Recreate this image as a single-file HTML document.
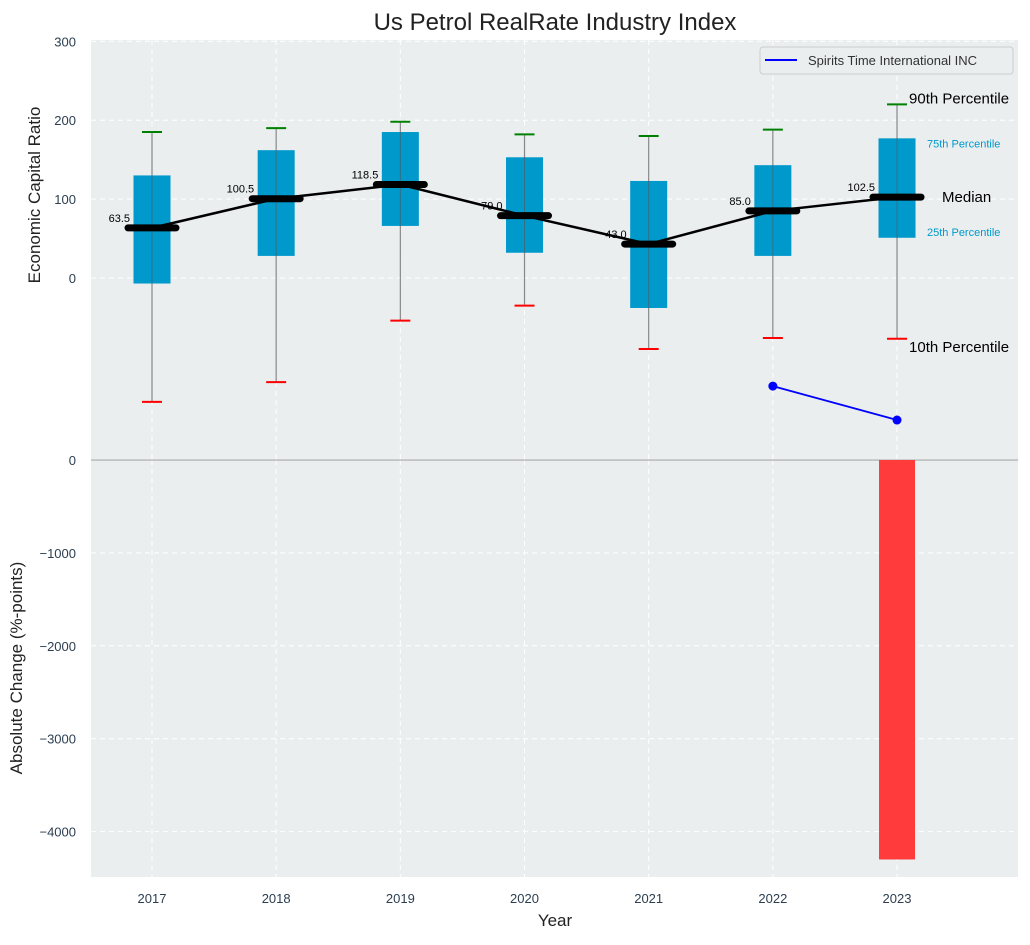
<!DOCTYPE html>
<html><head><meta charset="utf-8"><style>
body{margin:0;background:#fff;font-family:"Liberation Sans",sans-serif}
svg text{font-family:"Liberation Sans",sans-serif}
</style></head><body>
<svg id="c" width="1030" height="940" xmlns="http://www.w3.org/2000/svg"></svg>
<script>
const years=[2017,2018,2019,2020,2021,2022,2023];
const p10=[-157,-132,-54,-35,-90,-76,-77];
const q1=[-7,28,66,32,-38,28,51];
const med=[63.5,100.5,118.5,79.0,43.0,85.0,102.5];
const q3=[130,162,185,153,123,143,177];
const p90=[185,190,198,182,180,188,220];
const compYears=[2022,2023];
const compVals=[-137,-180];
const changeYears=[2023];
const changeVals=[-4300];
const topTicks=[0,100,200,300];
const botTicks=[0,-1000,-2000,-3000,-4000];

const S=document.getElementById('c');const NS='http://www.w3.org/2000/svg';
function el(t,a,txt){const e=document.createElementNS(NS,t);for(const k in a)e.setAttribute(k,a[k]);if(txt!==undefined)e.textContent=txt;S.appendChild(e);return e;}
const L=91,R=1018,T1=40,B1=459,T2=460,B2=877;
const x=v=>152+(v-2017)*124.17;
const y1=v=>278-v*0.789;
const yB=v=>460+(-v)*0.0929;

let e;
e=el('rect',{x:L,y:T1,width:R-L,height:B1-T1,fill:'#eaeeef'});

e=el('rect',{x:L,y:T2,width:R-L,height:B2-T2,fill:'#eaeeef'});

for(const t of topTicks){const yy=y1(t);
 el('line',{x1:L,x2:R,y1:yy,y2:yy,stroke:'#fff','stroke-dasharray':'5,4','stroke-width':1});
 e=el('text',{x:76,y:yy+5,'text-anchor':'end','font-size':13,fill:'#2c3e50'},t);
 }
for(const t of botTicks){const yy=yB(t);
 el('line',{x1:L,x2:R,y1:yy,y2:yy,stroke:'#fff','stroke-dasharray':'5,4','stroke-width':1});
 e=el('text',{x:76,y:yy+5,'text-anchor':'end','font-size':13,fill:'#2c3e50'},t===0?'0':'\u2212'+(-t));
 }
for(const yr of years){const xx=x(yr);
 el('line',{x1:xx,x2:xx,y1:T1,y2:B1,stroke:'#fff','stroke-dasharray':'5,4'});
 el('line',{x1:xx,x2:xx,y1:T2,y2:B2,stroke:'#fff','stroke-dasharray':'5,4'});
 e=el('text',{x:xx,y:903,'text-anchor':'middle','font-size':13,fill:'#2c3e50'},yr);
 }
el('line',{x1:L,x2:R,y1:460,y2:460,stroke:'#999','stroke-width':1});
changeYears.forEach((yr,i)=>{e=el('rect',{x:x(yr)-18,y:yB(0),width:36,height:yB(changeVals[i])-yB(0),fill:'#ff3b3b'});
 });
years.forEach((yr,i)=>{const xx=x(yr);
 e=el('line',{x1:xx,x2:xx,y1:y1(p90[i]),y2:y1(p10[i]),stroke:'#888','stroke-width':1.2});
 
 e=el('rect',{x:xx-18.5,y:y1(q3[i]),width:37,height:y1(q1[i])-y1(q3[i]),fill:'#0099cc'});
 
 el('line',{x1:xx,x2:xx,y1:y1(q3[i]),y2:y1(q1[i]),stroke:'#555','stroke-width':1,opacity:.6});
 e=el('line',{x1:xx-10,x2:xx+10,y1:y1(p90[i]),y2:y1(p90[i]),stroke:'green','stroke-width':2});
 
 e=el('line',{x1:xx-10,x2:xx+10,y1:y1(p10[i]),y2:y1(p10[i]),stroke:'red','stroke-width':2});
 
});
e=el('polyline',{points:years.map((yr,i)=>x(yr)+','+y1(med[i])).join(' '),fill:'none',stroke:'#000','stroke-width':2.5});

years.forEach((yr,i)=>{const xx=x(yr);
 e=el('line',{x1:xx-24,x2:xx+24,y1:y1(med[i]),y2:y1(med[i]),stroke:'#000','stroke-width':7,'stroke-linecap':'round'});
 
 e=el('text',{x:xx-22,y:y1(med[i])-6,'text-anchor':'end','font-size':11,fill:'#000'},med[i].toFixed(1));
 });
e=el('polyline',{points:compYears.map((yr,i)=>x(yr)+','+y1(compVals[i])).join(' '),fill:'none',stroke:'blue','stroke-width':1.8});

compYears.forEach((yr,i)=>{e=el('circle',{cx:x(yr),cy:y1(compVals[i]),r:4.5,fill:'blue'});
 });
const lx=x(2023);
[['90th Percentile',lx+12,y1(p90[6])-1,15,'#000'],['75th Percentile',lx+30,y1(q3[6])+9,11,'#0099cc'],['Median',lx+45,y1(med[6])+5,15,'#000'],['25th Percentile',lx+30,y1(q1[6])-2,11,'#0099cc'],['10th Percentile',lx+12,y1(p10[6])+13,15,'#000']].forEach(a=>{
 e=el('text',{x:a[1],y:a[2],'font-size':a[3],fill:a[4]},a[0]);
 });
e=el('rect',{x:760,y:47,width:253,height:27,rx:3,fill:'#eaeeef',stroke:'#ccc'});

el('line',{x1:765,x2:797,y1:60,y2:60,stroke:'blue','stroke-width':2});
e=el('text',{x:808,y:65,'font-size':13,fill:'#333'},'Spirits Time International INC');

e=el('text',{x:555,y:30,'text-anchor':'middle','font-size':24,fill:'#222'},'Us Petrol RealRate Industry Index');

e=el('text',{x:555,y:926,'text-anchor':'middle','font-size':17,fill:'#222'},'Year');

e=el('text',{x:0,y:0,'text-anchor':'middle','font-size':17,fill:'#222',transform:'translate(40,195) rotate(-90)'},'Economic Capital Ratio');

e=el('text',{x:0,y:0,'text-anchor':'middle','font-size':17,fill:'#222',transform:'translate(22,668) rotate(-90)'},'Absolute Change (%-points)');

</script>
</body></html>
